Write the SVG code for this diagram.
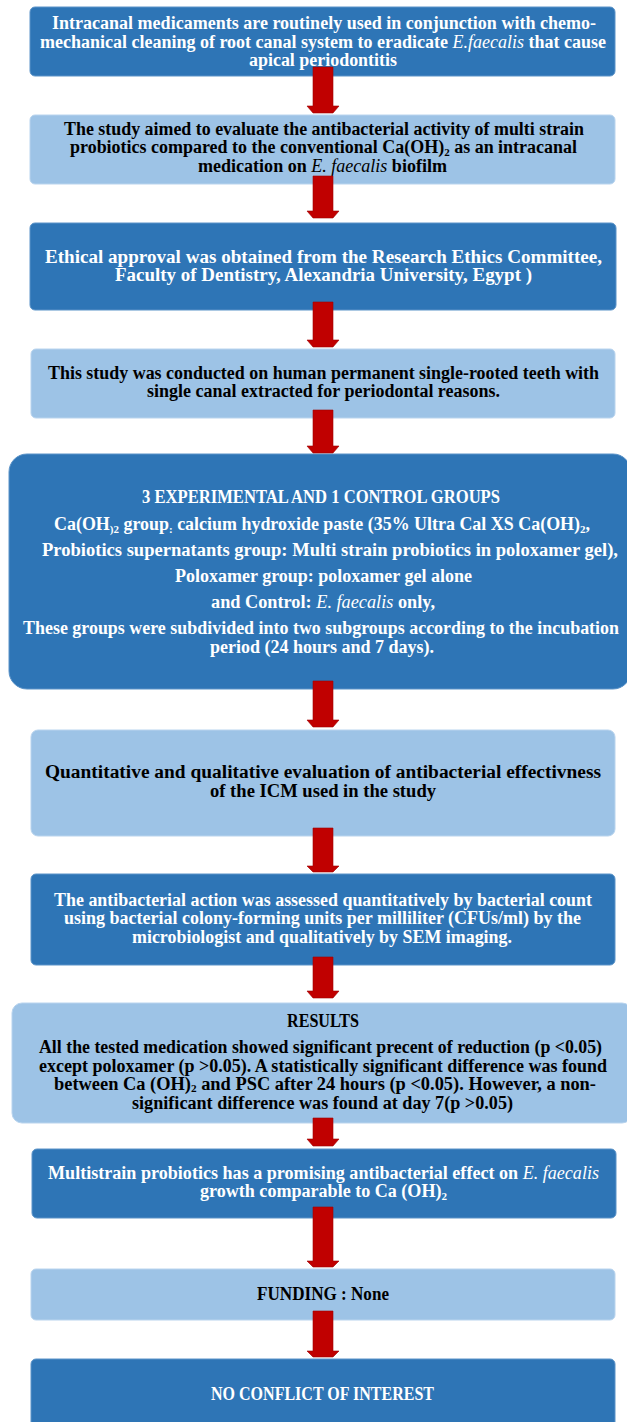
<svg xmlns="http://www.w3.org/2000/svg" width="627" height="1422" viewBox="0 0 627 1422">
<style>
.dark{fill:#2E75B6;stroke:#5B93C8;stroke-width:1}
.light{fill:#9DC3E6;stroke:#B9D4EE;stroke-width:1}
.arrow{fill:#C00000;stroke:#A00000;stroke-width:0.6}
text{font-size:18px;font-weight:bold;font-family:"Liberation Serif","Times New Roman",serif}
.w{fill:#FFFFFF}
.k{fill:#000000}
.c{font-size:18px}
.i{font-style:italic;font-weight:normal}
.sub{font-size:11px}
</style>
<rect width="627" height="1422" fill="#FFFFFF"/>
<g id="nodes">
<g id="n1">
<rect class="dark" x="30" y="7" width="585" height="69" rx="5"/>
<text class="w" x="52" y="29" textLength="544" lengthAdjust="spacingAndGlyphs">Intracanal medicaments are routinely used in conjunction with chemo-</text>
<text class="w" x="40" y="48" textLength="566" lengthAdjust="spacingAndGlyphs">mechanical cleaning of root canal system to eradicate <tspan class="i">E.faecalis</tspan> that cause</text>
<text class="w" x="249" y="66" textLength="148" lengthAdjust="spacingAndGlyphs">apical periodontitis</text>
</g>
<g id="n2">
<rect class="light" x="30" y="115" width="585" height="69" rx="5"/>
<text class="k" x="64" y="135" textLength="520" lengthAdjust="spacingAndGlyphs">The study aimed to evaluate the antibacterial activity of multi strain</text>
<text class="k" x="70" y="153" textLength="507" lengthAdjust="spacingAndGlyphs">probiotics compared to the conventional Ca(OH)<tspan class="sub" dy="3">2</tspan><tspan dy="-3"> as an intracanal</tspan></text>
<text class="k" x="198" y="172" textLength="249" lengthAdjust="spacingAndGlyphs">medication on <tspan class="i">E. faecalis</tspan> biofilm</text>
</g>
<g id="n3">
<rect class="dark" x="30" y="223" width="586" height="87" rx="5"/>
<text class="w c" x="45" y="263" textLength="557" lengthAdjust="spacingAndGlyphs">Ethical approval was obtained from the Research Ethics Committee,</text>
<text class="w c" x="115" y="281" textLength="417" lengthAdjust="spacingAndGlyphs">Faculty of Dentistry, Alexandria University, Egypt )</text>
</g>
<g id="n4">
<rect class="light" x="31" y="349" width="584" height="69" rx="5"/>
<text class="k" x="48" y="379" textLength="551" lengthAdjust="spacingAndGlyphs">This study was conducted on human permanent single-rooted teeth with</text>
<text class="k" x="147" y="397" textLength="353" lengthAdjust="spacingAndGlyphs">single canal extracted for periodontal reasons.</text>
</g>
<g id="n5">
<rect class="dark" x="9" y="454" width="622" height="235" rx="18"/>
<text class="w c" x="142" y="503" textLength="358" lengthAdjust="spacingAndGlyphs">3 EXPERIMENTAL AND 1 CONTROL GROUPS</text>
<text class="w" x="54" y="530" textLength="536" lengthAdjust="spacingAndGlyphs">Ca(OH<tspan class="sub" dy="3">)2</tspan><tspan dy="-3"> group</tspan><tspan class="sub" dy="3">:</tspan><tspan dy="-3"> calcium hydroxide paste (35% Ultra Cal XS Ca(OH)</tspan><tspan class="sub" dy="3">2</tspan><tspan dy="-3">,</tspan></text>
<text class="w" x="42" y="556" textLength="576" lengthAdjust="spacingAndGlyphs">Probiotics supernatants  group:  Multi strain probiotics in poloxamer gel),</text>
<text class="w" x="175" y="582" textLength="297" lengthAdjust="spacingAndGlyphs">Poloxamer group: poloxamer gel alone</text>
<text class="w" x="211" y="608" textLength="224" lengthAdjust="spacingAndGlyphs">and Control: <tspan class="i">E. faecalis</tspan> only,</text>
<text class="w" x="23" y="634" textLength="596" lengthAdjust="spacingAndGlyphs">These groups were subdivided into two subgroups according to the incubation</text>
<text class="w" x="210" y="653" textLength="224" lengthAdjust="spacingAndGlyphs">period (24 hours and 7 days).</text>
</g>
<g id="n6">
<rect class="light" x="31" y="730" width="584" height="106" rx="7"/>
<text class="k c" x="45" y="778" textLength="556" lengthAdjust="spacingAndGlyphs">Quantitative and qualitative evaluation of antibacterial effectivness</text>
<text class="k c" x="210" y="797" textLength="226" lengthAdjust="spacingAndGlyphs">of the ICM used in the study</text>
</g>
<g id="n7">
<rect class="dark" x="31" y="874" width="584" height="91" rx="5"/>
<text class="w" x="54" y="906" textLength="538" lengthAdjust="spacingAndGlyphs">The antibacterial action was assessed quantitatively by bacterial count</text>
<text class="w" x="64" y="924" textLength="517" lengthAdjust="spacingAndGlyphs">using bacterial colony-forming units per milliliter (CFUs/ml) by the</text>
<text class="w" x="132" y="943" textLength="380" lengthAdjust="spacingAndGlyphs">microbiologist and qualitatively by SEM imaging.</text>
</g>
<g id="n8">
<rect class="light" x="12" y="1003" width="620" height="120" rx="10"/>
<text class="k" x="287" y="1027" textLength="72" lengthAdjust="spacingAndGlyphs">RESULTS</text>
<text class="k" x="39" y="1053" textLength="563" lengthAdjust="spacingAndGlyphs">All the tested medication showed significant precent of reduction (p &lt;0.05)</text>
<text class="k" x="39" y="1072" textLength="568" lengthAdjust="spacingAndGlyphs">except poloxamer (p &gt;0.05). A statistically significant difference was found</text>
<text class="k" x="54" y="1090" textLength="542" lengthAdjust="spacingAndGlyphs">between Ca (OH)<tspan class="sub" dy="2">2</tspan><tspan dy="-2">  and PSC after 24 hours (p &lt;0.05). However,  a non-</tspan></text>
<text class="k" x="132" y="1109" textLength="381" lengthAdjust="spacingAndGlyphs">significant difference was found at day 7(p &gt;0.05)</text>
</g>
<g id="n9">
<rect class="dark" x="32" y="1149" width="584" height="69" rx="5"/>
<text class="w" x="48" y="1179" textLength="551" lengthAdjust="spacingAndGlyphs">Multistrain probiotics has a promising antibacterial effect on <tspan class="i">E. faecalis</tspan></text>
<text class="w" x="200" y="1197" textLength="247" lengthAdjust="spacingAndGlyphs">growth comparable to Ca (OH)<tspan class="sub" dy="3">2</tspan></text>
</g>
<g id="n10">
<rect class="light" x="31" y="1269" width="584" height="51" rx="5"/>
<text class="k c" x="257" y="1300" textLength="132" lengthAdjust="spacingAndGlyphs">FUNDING : None</text>
</g>
<g id="n11">
<rect class="dark" x="31" y="1359" width="584" height="80" rx="5"/>
<text class="w c" x="211" y="1400" textLength="223" lengthAdjust="spacingAndGlyphs">NO CONFLICT OF INTEREST</text>
</g>
</g>
<g id="connectors">
<path class="arrow" d="M313,67 H333 V106 H339 L333,113 H313 L307,106 H313 Z"/>
<path class="arrow" d="M313,176 H333 V211 H339 L333,218 H313 L307,211 H313 Z"/>
<path class="arrow" d="M313,302 H333 V340 H339 L333,347 H313 L307,340 H313 Z"/>
<path class="arrow" d="M313,410 H333 V446 H339 L333,453 H313 L307,446 H313 Z"/>
<path class="arrow" d="M313,681 H333 V720 H339 L333,727 H313 L307,720 H313 Z"/>
<path class="arrow" d="M313,828 H333 V866 H339 L333,872 H313 L307,866 H313 Z"/>
<path class="arrow" d="M313,957 H333 V991 H339 L333,998 H313 L307,991 H313 Z"/>
<path class="arrow" d="M313,1118 H333 V1139 H339 L333,1146 H313 L307,1139 H313 Z"/>
<path class="arrow" d="M313,1207 H333 V1261 H339 L333,1267 H313 L307,1261 H313 Z"/>
<path class="arrow" d="M313,1311 H333 V1351 H339 L333,1357 H313 L307,1351 H313 Z"/>
</g>
</svg>
